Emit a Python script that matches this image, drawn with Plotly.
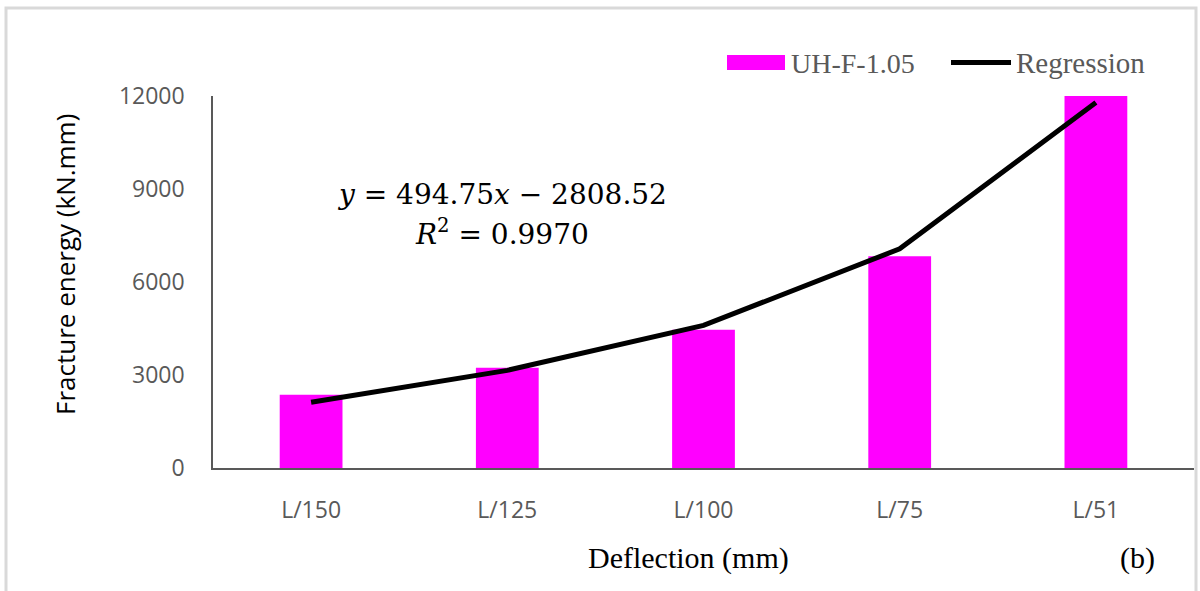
import plotly.graph_objects as go

# Deflection limits and fracture energy for specimen UH-F-1.05
categories = ["L/150", "L/125", "L/100", "L/75", "L/51"]
energy = [2360, 3230, 4460, 6830, 12000]
regression = [2120, 3150, 4600, 7070, 11790]
y_ticks = [0, 3000, 6000, 9000, 12000]
y_tick_text = ["0", "3000", "6000", "9000", "12000"]

W, H = 1200, 591
L, R, T, B = 213, 6, 96, 123  # plot-area margins in px


def fx(px):
    """Pixel x -> paper x."""
    return (px - L) / (W - L - R)


def fy(py):
    """Pixel y -> paper y."""
    return (H - B - py) / (H - B - T)


GRAY = "#595959"
SERIF = "Liberation Serif, Times New Roman, serif"
MATH = "DejaVu Serif, serif"
SANS = "Open Sans, Calibri, sans-serif"

fig = go.Figure()
fig.add_trace(go.Bar(
    x=categories, y=energy, name="UH-F-1.05",
    marker=dict(color="#ff00ff", line=dict(width=0)),
))
fig.add_trace(go.Scatter(
    x=categories, y=regression, name="Regression", mode="lines",
    line=dict(color="black", width=5),
))

shapes = [
    # outer frame
    dict(type="rect", xref="paper", yref="paper",
         x0=fx(6), x1=fx(1196), y0=fy(8), y1=fy(600),
         line=dict(color="#d9d9d9", width=3), fillcolor="rgba(0,0,0,0)",
         layer="below"),
    # legend swatches
    dict(type="rect", xref="paper", yref="paper",
         x0=fx(727), x1=fx(785), y0=fy(55), y1=fy(70),
         fillcolor="#ff00ff", line=dict(width=0)),
    dict(type="line", xref="paper", yref="paper",
         x0=fx(951), x1=fx(1011), y0=fy(62.5), y1=fy(62.5),
         line=dict(color="black", width=5)),
]

annotations = [
    dict(text="UH-F-1.05", x=fx(789), y=fy(63), xanchor="left", yanchor="middle",
         font=dict(family=SERIF, size=28, color=GRAY)),
    dict(text="Regression", x=fx(1014), y=fy(63), xanchor="left", yanchor="middle",
         font=dict(family=SERIF, size=29, color=GRAY)),
    dict(text="<i>y</i> = 494.75<i>x</i> − 2808.52", x=fx(502), y=fy(194),
         xanchor="center", yanchor="middle",
         font=dict(family=MATH, size=28, color="black")),
    dict(text="<i>R</i><sup>2</sup> = 0.9970", x=fx(502), y=fy(232),
         xanchor="center", yanchor="middle",
         font=dict(family=MATH, size=28, color="black")),
    dict(text="Fracture energy (kN.mm)", x=fx(65), y=fy(265), textangle=-90,
         xanchor="center", yanchor="middle",
         font=dict(family=SANS, size=26, color="black")),
    dict(text="Deflection (mm)", x=fx(688), y=fy(558), xanchor="center", yanchor="middle",
         font=dict(family=SERIF, size=30, color="black")),
    dict(text="(b)", x=fx(1137), y=fy(558), xanchor="center", yanchor="middle",
         font=dict(family=SERIF, size=30, color="black")),
]
for a in annotations:
    a.update(xref="paper", yref="paper", showarrow=False)

fig.update_layout(
    width=W, height=H,
    margin=dict(l=L, r=R, t=T, b=B, pad=0),
    paper_bgcolor="white", plot_bgcolor="white",
    showlegend=False,
    bargap=0.68,
    shapes=shapes,
    annotations=annotations,
    xaxis=dict(
        type="category", range=[-0.5, 4.5],
        showline=True, linecolor=GRAY, linewidth=2,
        showgrid=False, ticks="", ticklabelstandoff=20,
        tickfont=dict(family=SANS, size=23, color=GRAY),
    ),
    yaxis=dict(
        range=[0, 12000], tickvals=y_ticks, ticktext=y_tick_text,
        showline=True, linecolor=GRAY, linewidth=1.5,
        showgrid=False, zeroline=False, ticks="", ticklabelstandoff=22,
        tickfont=dict(family=SANS, size=23, color=GRAY),
    ),
)

fig.write_html("out.html")
